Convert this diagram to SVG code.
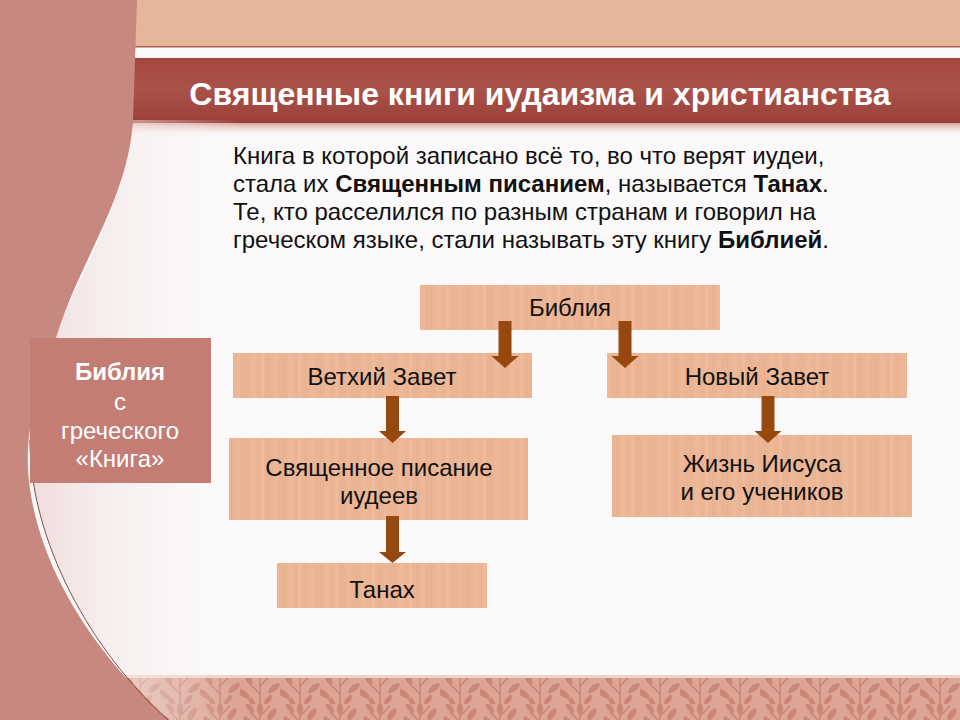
<svg xmlns="http://www.w3.org/2000/svg" width="960" height="720" viewBox="0 0 960 720">
<defs>
<style>
.node rect.box{fill:url(#wood)}
.node text{font-family:"Liberation Sans",Arial,sans-serif;font-size:24px;fill:#111;text-anchor:middle}
.para{font-family:"Liberation Sans",Arial,sans-serif;font-size:24px;fill:#111}
.arrow{fill:#96480f}
</style>
<pattern id="wood" patternUnits="userSpaceOnUse" width="37" height="60">
<rect width="37" height="60" fill="#ebb493"/>
<rect x="2" width="3" height="60" fill="#f2c4a6" opacity="0.45"/>
<rect x="9" width="1" height="60" fill="#dfa384" opacity="0.3"/>
<rect x="14" width="4" height="60" fill="#f0c0a2" opacity="0.35"/>
<rect x="24" width="1" height="60" fill="#e0a587" opacity="0.3"/>
<rect x="29" width="5" height="60" fill="#f1c3a5" opacity="0.3"/>
</pattern>
<linearGradient id="title" x1="0" y1="0" x2="0" y2="1">
<stop offset="0" stop-color="#a4483e"/>
<stop offset="0.5" stop-color="#a9524a"/>
<stop offset="1" stop-color="#9a3f37"/>
</linearGradient>
<linearGradient id="shadow" x1="0" y1="0" x2="0" y2="1">
<stop offset="0" stop-color="#d9a6a0"/>
<stop offset="1" stop-color="#ffffff" stop-opacity="0"/>
</linearGradient>
<linearGradient id="fade" x1="0" y1="0" x2="1" y2="0">
<stop offset="0" stop-color="#efdcdb"/>
<stop offset="1" stop-color="#fbf9f9" stop-opacity="0"/>
</linearGradient>
<pattern id="leaves" patternUnits="userSpaceOnUse" width="40" height="44">
<rect width="40" height="44" fill="#dca595"/>
<g fill="none" stroke="#c98472" stroke-width="1.5">
<path d="M20 44 V6 M20 34 L8 22 M20 26 L32 14 M20 18 L10 8 M20 12 L30 2"/>
</g>
<g fill="#cb8776">
<ellipse cx="8" cy="18" rx="3" ry="7" transform="rotate(-35 8 18)"/>
<ellipse cx="32" cy="10" rx="3" ry="7" transform="rotate(35 32 10)"/>
<ellipse cx="20" cy="5" rx="3" ry="6"/>
<ellipse cx="10" cy="4" rx="2.5" ry="6" transform="rotate(-40 10 4)"/>
<ellipse cx="4" cy="34" rx="3" ry="7" transform="rotate(-50 4 34)"/>
<ellipse cx="34" cy="28" rx="3" ry="7" transform="rotate(50 34 28)"/>
<ellipse cx="28" cy="40" rx="2.5" ry="6" transform="rotate(40 28 40)"/>
<ellipse cx="12" cy="42" rx="2.5" ry="5" transform="rotate(-30 12 42)"/>
</g>
</pattern>
</defs>

<!-- background -->
<rect width="960" height="720" fill="#fbf9f9"/>
<rect x="0" y="0" width="960" height="47" fill="#e6b69b"/>
<rect x="0" y="46" width="960" height="1.5" fill="#b05a4d"/>
<rect x="0" y="123" width="960" height="14" fill="url(#shadow)"/>
<rect x="0" y="58" width="960" height="65" fill="url(#title)"/>
<rect x="0" y="677" width="960" height="43" fill="url(#leaves)"/>
<rect x="0" y="675" width="960" height="3" fill="#efd3c8"/>

<!-- light fade right of the curve -->
<path d="M133 120 C125 220 60 300 30 400 C20 520 80 640 170 720 L240 720 L240 120 Z" fill="url(#fade)"/>
<!-- left panel -->
<path d="M0 0 H137 L133 120 C128 200 80 260 57 335 C40 380 26 420 28 470 C34 560 90 650 168 720 H0 Z" fill="#c7887f"/>
<path d="M30 440 C30 540 90 650 168 720" fill="none" stroke="#7d4a44" stroke-width="1"/>

<text x="540" y="105" font-family="Liberation Sans,Arial,sans-serif" font-size="32" font-weight="bold" fill="#ffffff" text-anchor="middle">Священные книги иудаизма и христианства</text>

<text class="para" x="233" y="164">Книга в которой записано всё то, во что верят иудеи,</text>
<text class="para" x="233" y="192">стала их <tspan font-weight="bold">Священным писанием</tspan>, называется <tspan font-weight="bold">Танах</tspan>.</text>
<text class="para" x="233" y="220">Те, кто расселился по разным странам и говорил на</text>
<text class="para" x="233" y="248">греческом языке, стали называть эту книгу <tspan font-weight="bold">Библией</tspan>.</text>

<g id="side-note">
<rect x="30" y="338" width="181" height="145" fill="#c37d74"/>
<g font-family="Liberation Sans,Arial,sans-serif" font-size="24" fill="#ffffff" text-anchor="middle">
<text x="120" y="380" font-weight="bold">Библия</text>
<text x="120" y="410">с</text>
<text x="120" y="439">греческого</text>
<text x="120" y="467">«Книга»</text>
</g>
</g>

<g id="bible" class="node"><rect class="box" x="420" y="285" width="300" height="45"/><text x="570" y="316">Библия</text></g>
<g id="old-testament" class="node"><rect class="box" x="233" y="353" width="299" height="45"/><text x="382" y="385">Ветхий Завет</text></g>
<g id="new-testament" class="node"><rect class="box" x="607" y="353" width="300" height="45"/><text x="757" y="385">Новый Завет</text></g>
<g id="scripture" class="node"><rect class="box" x="229" y="438" width="299" height="82"/><text x="379" y="476">Священное писание</text><text x="379" y="504">иудеев</text></g>
<g id="life-of-jesus" class="node"><rect class="box" x="612" y="435" width="300" height="82"/><text x="762" y="472">Жизнь Иисуса</text><text x="762" y="500">и его учеников</text></g>
<g id="tanakh" class="node"><rect class="box" x="277" y="563" width="210" height="45"/><text x="382" y="598">Танах</text></g>

<g id="connectors">
<path class="arrow" d="M498.5 321 H511.5 V356 H518.5 L505 368 L491.5 356 H498.5 Z"/>
<path class="arrow" d="M618.5 321 H631.5 V356 H638.5 L625 368 L611.5 356 H618.5 Z"/>
<path class="arrow" d="M386 396 H399 V431 H406 L392.5 443 L379 431 H386 Z"/>
<path class="arrow" d="M386 516 H399 V552 H406 L392.5 563 L379 552 H386 Z"/>
<path class="arrow" d="M761.5 396 H774.5 V431 H781.5 L768 443 L754.5 431 H761.5 Z"/>
</g>
</svg>
